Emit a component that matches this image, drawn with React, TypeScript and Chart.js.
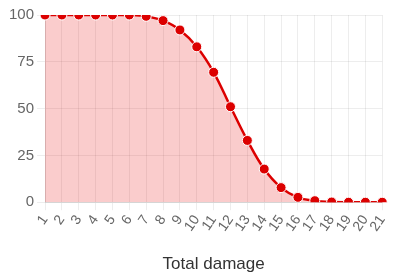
import React, { useEffect, useRef } from "react";
import { Chart, registerables } from "chart.js";

Chart.register(...registerables);

const labels = ["1","2","3","4","5","6","7","8","9","10","11","12","13","14","15","16","17","18","19","20","21"];
const values = [100,100,100,100,100,100,99.3,97,92,83,69.4,51,33,17.7,7.8,2.6,0.8,0.1,0,0,0];
const yTicks = [0, 25, 50, 75, 100];
const xTitle = "Total damage";

export default function App() {
  const ref = useRef<HTMLCanvasElement | null>(null);
  useEffect(() => {
    if (!ref.current) return;
    const chart = new Chart(ref.current, {
      type: "line",
      data: {
        labels,
        datasets: [
          {
            data: values,
            borderColor: "rgb(220,0,0)",
            backgroundColor: "rgba(230,0,0,0.2)",
            fill: "origin",
            borderWidth: 2.5,
            tension: 0.4,
            pointRadius: 5,
            pointBorderWidth: 1,
            pointBackgroundColor: "rgb(220,0,0)",
            pointBorderColor: "#fff",
          },
        ],
      },
      options: {
        animation: false,
        responsive: true,
        maintainAspectRatio: false,
        plugins: { legend: { display: false }, tooltip: { enabled: false } },
        layout: { padding: { top: 15, right: 0, bottom: 0, left: 6 } },
        scales: {
          x: {
            ticks: {
              color: "#666",
              font: { family: "'Liberation Sans', Arial", size: 14 },
              minRotation: 55,
              maxRotation: 55,
              autoSkip: false,
              padding: 2,
            },
            grid: { color: "rgba(0,0,0,0.07)" },
            title: {
              display: true,
              text: xTitle,
              color: "#333",
              font: { family: "'Liberation Sans', Arial", size: 17 },
              padding: { top: 18, bottom: 2 },
            },
          },
          y: {
            min: 0,
            max: 100,
            afterBuildTicks: (axis: any) => {
              axis.ticks = yTicks.map((v) => ({ value: v }));
            },
            ticks: {
              color: "#666",
              font: { family: "'Liberation Sans', Arial", size: 15 },
            },
            grid: { color: "rgba(0,0,0,0.07)" },
          },
        },
      },
    });
    return () => chart.destroy();
  }, []);
  return (
    <div style={{ position: "fixed", left: 0, top: 0, width: 398, height: 277 }}>
      <canvas ref={ref} />
    </div>
  );
}
